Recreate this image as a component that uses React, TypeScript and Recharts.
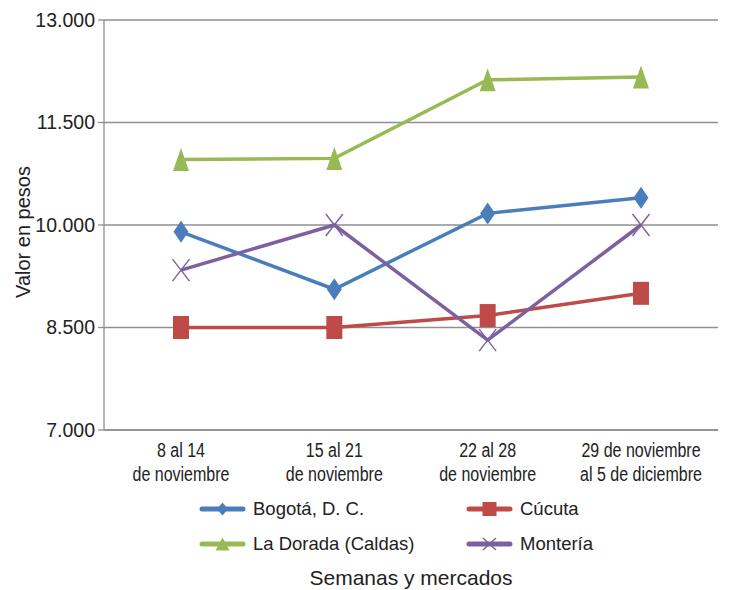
import React from "react";
import { LineChart, Line, XAxis, YAxis, CartesianGrid, Label } from "recharts";

const weeks = ["8 al 14|de noviembre", "15 al 21|de noviembre", "22 al 28|de noviembre", "29 de noviembre|al 5 de diciembre"];
const bogota = [9900, 9060, 10170, 10400];
const cucuta = [8500, 8500, 8675, 9000];
const laDorada = [10960, 10975, 12125, 12165];
const monteria = [9340, 10000, 8315, 10000];
const yTicks = [7000, 8500, 10000, 11500, 13000];

const FONT = "'Liberation Sans', Arial, Helvetica, sans-serif";
const GRID = "#8f8f8f";
const TEXT = "#222";

const series = [
    { key: "bogota", name: "Bogotá, D. C.", color: "#4a7ebb", shape: "diamond", values: bogota },
    { key: "cucuta", name: "Cúcuta", color: "#be4b48", shape: "square", values: cucuta },
    { key: "laDorada", name: "La Dorada (Caldas)", color: "#98b954", shape: "triangle", values: laDorada },
    { key: "monteria", name: "Montería", color: "#7d60a0", shape: "cross", values: monteria },
];

const data = weeks.map((w, i) => {
    const row: any = { week: w };
    series.forEach((s) => { row[s.key] = s.values[i]; });
    return row;
});

const fmt = (v: number) => v.toString().replace(/\B(?=(\d{3})+(?!\d))/g, ".");

const marker = (shape: string, color: string, cx: number, cy: number, w: number, h: number, key?: any) => {
    const hw = w / 2, hh = h / 2;
    if (shape === "diamond")
        return <polygon key={key} points={`${cx},${cy - hh} ${cx + hw},${cy} ${cx},${cy + hh} ${cx - hw},${cy}`} fill={color} />;
    if (shape === "square")
        return <rect key={key} x={cx - hw} y={cy - hh} width={w} height={h} fill={color} />;
    if (shape === "triangle")
        return <polygon key={key} points={`${cx},${cy - hh} ${cx + hw},${cy + hh} ${cx - hw},${cy + hh}`} fill={color} />;
    return (
        <g key={key}>
            <line x1={cx - hw} y1={cy - hh} x2={cx + hw} y2={cy + hh} stroke={color} strokeWidth={1.4} />
            <line x1={cx - hw} y1={cy + hh} x2={cx + hw} y2={cy - hh} stroke={color} strokeWidth={1.4} />
        </g>
    );
};

const dotSize: Record<string, [number, number]> = {
    diamond: [15, 22],
    square: [16, 23],
    triangle: [16, 23],
    cross: [17, 22],
};

const makeDot = (shape: string, color: string) => (props: any) => {
    const { cx, cy, index } = props;
    const [w, h] = dotSize[shape];
    return marker(shape, color, cx, cy, w, h, `${shape}-${index}`);
};

const WeekTick = ({ x, y, payload }: any) => {
    const [a, b] = String(payload.value).split("|");
    return (
        <text transform={`translate(${x},${y}) scale(0.8,1)`} textAnchor="middle" fontSize={20} fontFamily={FONT} fill={TEXT}>
            <tspan x={0} y={27}>{a}</tspan>
            <tspan x={0} y={51}>{b}</tspan>
        </text>
    );
};

const legendPos = [
    { left: 199, top: 499 },
    { left: 466, top: 499 },
    { left: 199, top: 534 },
    { left: 466, top: 534 },
];

const legendSize: Record<string, [number, number]> = {
    diamond: [11, 13],
    square: [14, 14],
    triangle: [14, 13],
    cross: [13, 12],
};

export default function App() {
    return (
        <div style={{ position: "absolute", left: 0, top: 0, width: 730, height: 590, background: "#fff", fontFamily: FONT }}>
            <LineChart width={730} height={590} data={data} margin={{ top: 20, right: 12, left: 0, bottom: 110 }} style={{ overflow: "visible" }}>
                <CartesianGrid vertical={false} stroke={GRID} strokeWidth={1.3} />
                <XAxis
                    dataKey="week"
                    height={50}
                    interval={0}
                    padding={{ left: 77, right: 77 }}
                    tickLine={false}
                    tickSize={0}
                    tickMargin={0}
                    axisLine={{ stroke: GRID, strokeWidth: 1.3 }}
                    tick={<WeekTick />}
                />
                <YAxis
                    width={104}
                    domain={[7000, 13000]}
                    ticks={yTicks}
                    interval={0}
                    tickFormatter={fmt}
                    tickSize={6}
                    tickMargin={3}
                    axisLine={{ stroke: GRID, strokeWidth: 1.3 }}
                    tickLine={{ stroke: GRID, strokeWidth: 1.3 }}
                    tick={{ fontSize: 19.5, fontFamily: FONT, fill: TEXT }}
                >
                    <Label
                        content={() => (
                            <text x={30} y={232} transform="rotate(-90,30,232)" textAnchor="middle" fontSize={20} fontFamily={FONT} fill={TEXT}>
                                Valor en pesos
                            </text>
                        )}
                    />
                </YAxis>
                {series.map((s) => (
                    <Line
                        key={s.key}
                        dataKey={s.key}
                        name={s.name}
                        type="linear"
                        stroke={s.color}
                        strokeWidth={3.5}
                        dot={makeDot(s.shape, s.color)}
                        activeDot={false}
                        isAnimationActive={false}
                    />
                ))}
            </LineChart>
            {series.map((s, i) => {
                const [w, h] = legendSize[s.shape];
                return (
                    <div key={s.key} style={{ position: "absolute", left: legendPos[i].left, top: legendPos[i].top, display: "flex", alignItems: "center", height: 20 }}>
                        <svg width={47} height={20} style={{ display: "block" }}>
                            <line x1={3} y1={10} x2={44} y2={10} stroke={s.color} strokeWidth={5} strokeLinecap="round" />
                            {marker(s.shape, s.color, 23.5, 10, w, h)}
                        </svg>
                        <span style={{ marginLeft: 7, fontSize: 18.5, lineHeight: "20px", color: TEXT, whiteSpace: "nowrap" }}>{s.name}</span>
                    </div>
                );
            })}
            <div style={{ position: "absolute", left: 104, width: 614, top: 566, textAlign: "center", fontSize: 21, lineHeight: "24px", color: TEXT, whiteSpace: "nowrap" }}>
                Semanas y mercados
            </div>
        </div>
    );
}
